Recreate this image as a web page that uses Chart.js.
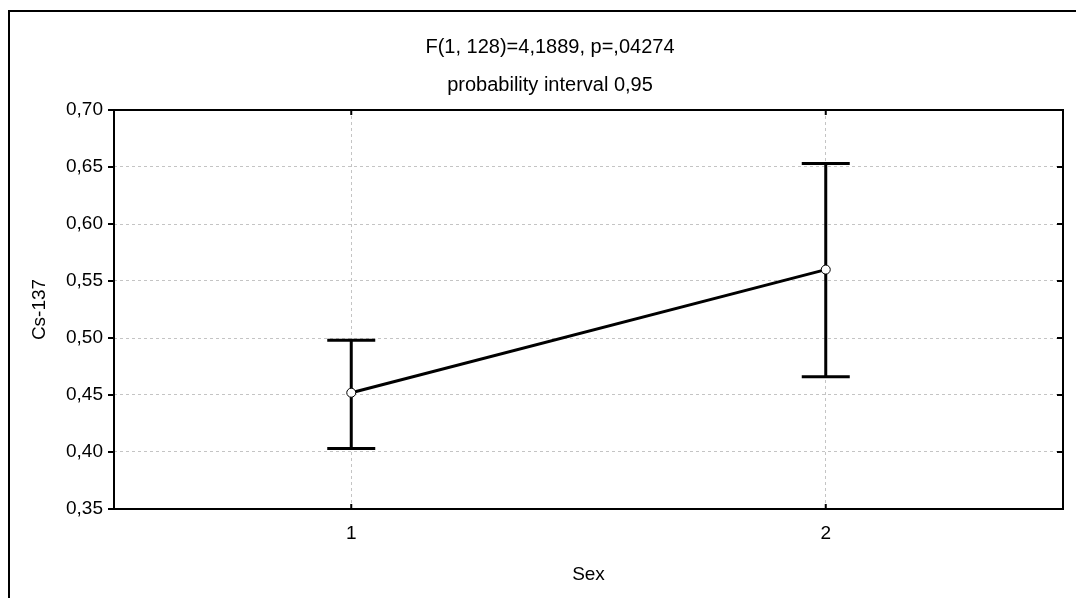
<!DOCTYPE html>
<html>
<head>
<meta charset="utf-8">
<script src="https://cdn.jsdelivr.net/npm/chart.js@4.4.1/dist/chart.umd.min.js"></script>
<style>
  html, body { margin: 0; padding: 0; background: #fff; overflow: hidden; }
  #frame { position: absolute; left: 8px; top: 10px; width: 2000px; height: 2000px;
           border-top: 2px solid #000; border-left: 2px solid #000; }
  #wrap { position: absolute; left: 0; top: 0; width: 1076px; height: 598px; }
</style>
</head>
<body>
<div id="frame"></div>
<div id="wrap"><canvas id="chart"></canvas></div>
<script>
// данные графика
const sexValues = [1, 2];
const means = [0.452, 0.560];
const upper = [0.498, 0.653];
const lower = [0.403, 0.466];
const yTicks = [0.35, 0.40, 0.45, 0.50, 0.55, 0.60, 0.65, 0.70];
const xTicks = [1, 2];
const titleLines = ['F(1, 128)=4,1889, p=,04274', 'probability interval 0,95'];

const FONT = 'Arial, "Liberation Sans", sans-serif';

// вертикальные «усы» доверительного интервала
const errorBars = {
  id: 'errorBars',
  beforeDatasetsDraw(chart) {
    const { ctx, scales: { x, y } } = chart;
    ctx.save();
    ctx.strokeStyle = '#000';
    ctx.lineWidth = 3;
    sexValues.forEach((s, i) => {
      const px = x.getPixelForValue(s);
      const top = y.getPixelForValue(upper[i]);
      const bot = y.getPixelForValue(lower[i]);
      ctx.beginPath();
      ctx.moveTo(px, top);
      ctx.lineTo(px, bot);
      ctx.moveTo(px - 24, top);
      ctx.lineTo(px + 24, top);
      ctx.moveTo(px - 24, bot);
      ctx.lineTo(px + 24, bot);
      ctx.stroke();
    });
    ctx.restore();
  }
};

// рамка области графика и засечки
const plotFrame = {
  id: 'plotFrame',
  afterDraw(chart) {
    const { ctx, chartArea: a, scales: { x, y } } = chart;
    ctx.save();
    ctx.strokeStyle = '#000';
    ctx.lineWidth = 2;
    ctx.strokeRect(a.left, a.top, a.right - a.left, a.bottom - a.top);
    ctx.beginPath();
    xTicks.forEach(t => {
      const px = x.getPixelForValue(t);
      ctx.moveTo(px, a.bottom);
      ctx.lineTo(px, a.bottom - 5);
      ctx.moveTo(px, a.top);
      ctx.lineTo(px, a.top + 5);
    });
    yTicks.forEach(t => {
      const py = y.getPixelForValue(t);
      ctx.moveTo(a.left - 6, py);
      ctx.lineTo(a.left, py);
      ctx.moveTo(a.right, py);
      ctx.lineTo(a.right - 6, py);
    });
    ctx.stroke();
    ctx.restore();
  }
};

new Chart(document.getElementById('chart'), {
  type: 'scatter',
  data: {
    datasets: [{
      data: sexValues.map((s, i) => ({ x: s, y: means[i] })),
      showLine: true,
      borderColor: '#000',
      borderWidth: 3,
      pointRadius: 4.5,
      pointBorderWidth: 1,
      pointBackgroundColor: '#fff',
      pointBorderColor: '#000'
    }]
  },
  options: {
    responsive: true,
    maintainAspectRatio: false,
    animation: false,
    // сдвиг слева, чтобы заголовок стоял как в оригинале
    layout: { padding: { left: 37, right: 13, top: 0, bottom: 0 } },
    plugins: {
      legend: { display: false },
      tooltip: { enabled: false },
      title: {
        display: true,
        text: titleLines,
        color: '#000',
        font: { family: FONT, size: 20, weight: 'normal', lineHeight: 1.9 },
        padding: { top: 28, bottom: 6 }
      }
    },
    scales: {
      x: {
        type: 'linear',
        min: 0.5,
        max: 2.5,
        afterBuildTicks: s => { s.ticks = xTicks.map(v => ({ value: v })); },
        afterFit: s => { s.height = 89; },
        grid: { color: '#c4c4c4', drawTicks: false },
        border: { display: false, dash: [3, 3] },
        ticks: {
          color: '#000',
          padding: 13,
          font: { family: FONT, size: 19 },
          callback: v => String(v)
        },
        title: {
          display: true,
          text: 'Sex',
          color: '#000',
          font: { family: FONT, size: 19 },
          padding: { top: 0, bottom: 12 }
        }
      },
      y: {
        min: 0.35,
        max: 0.70,
        afterBuildTicks: s => { s.ticks = yTicks.map(v => ({ value: v })); },
        afterFit: s => { s.width = 77; },
        grid: { color: '#c4c4c4', drawTicks: false },
        border: { display: false, dash: [3, 3] },
        ticks: {
          color: '#000',
          padding: 11,
          font: { family: FONT, size: 19 },
          callback: v => v.toFixed(2).replace('.', ',')
        },
        title: {
          display: true,
          text: 'Cs-137',
          color: '#000',
          font: { family: FONT, size: 19, lineHeight: 0.3 },
          padding: { top: 0, bottom: 0 }
        }
      }
    }
  },
  plugins: [errorBars, plotFrame]
});
</script>
</body>
</html>
